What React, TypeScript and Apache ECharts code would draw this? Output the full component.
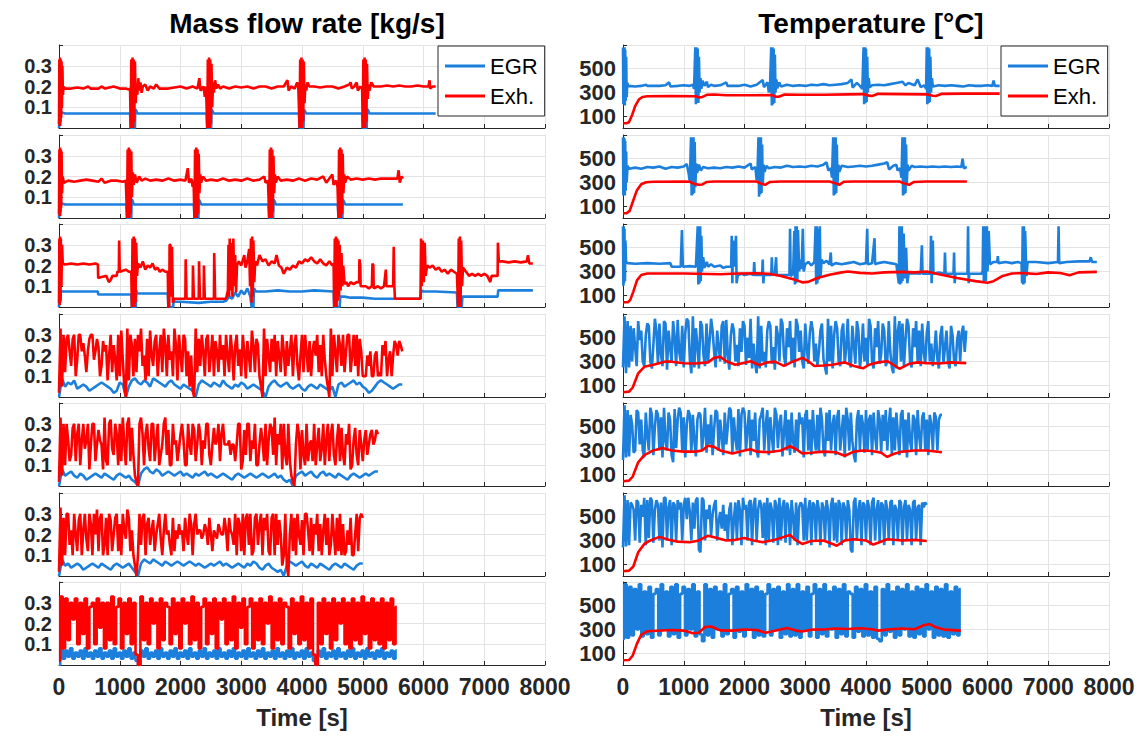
import React, { useEffect, useRef } from 'react';
import * as echarts from 'echarts';

const FONT = '"Liberation Sans", Arial, Helvetica, sans-serif';
const BLUE = '#1B7FDB';
const RED = '#FF0000';
const INK = '#262626';
const GRID = '#e3e3e3';

// ---------- tick labels / axis texts ----------
const massTicks = [0.1, 0.2, 0.3];
const tempTicks = [100, 300, 500];
const titles = ['Mass flow rate [kg/s]', 'Temperature [°C]'];
const xName = 'Time [s]';
const legendNames = ['EGR', 'Exh.'];

// ---------- Row 1 (time [s], value) ----------
const m1Exh = [[0,0.02],[6,0.33],[12,0.01],[18,0.34],[24,0.03],[30,0.33],[36,0.05],[42,0.32],[48,0.1],[56,0.3],[64,0.16],[75,0.2],[90,0.19],[200,0.19],[300,0.195],[400,0.19],[480,0.2],[520,0.19],[650,0.19],[700,0.2],[760,0.19],[900,0.2],[1000,0.19],[1100,0.19],[1150,0.185],[1170,0.19],[1180,0.0],[1190,0.33],[1200,0.02],[1210,0.34],[1220,0.0],[1230,0.33],[1240,0.03],[1250,0.32],[1262,0.12],[1275,0.2],[1290,0.16],[1305,0.24],[1320,0.18],[1340,0.22],[1360,0.17],[1380,0.2],[1420,0.21],[1460,0.18],[1500,0.2],[1560,0.19],[1600,0.21],[1650,0.19],[1800,0.19],[1900,0.195],[2000,0.2],[2100,0.19],[2200,0.2],[2280,0.19],[2310,0.24],[2330,0.18],[2380,0.2],[2400,0.15],[2420,0.2],[2440,0.0],[2450,0.33],[2460,0.02],[2470,0.34],[2480,0.0],[2490,0.33],[2500,0.02],[2510,0.31],[2522,0.1],[2535,0.22],[2550,0.17],[2570,0.23],[2590,0.19],[2620,0.21],[2650,0.19],[2700,0.2],[2800,0.19],[2900,0.2],[3000,0.195],[3100,0.2],[3200,0.19],[3300,0.2],[3400,0.2],[3500,0.19],[3600,0.2],[3700,0.2],[3760,0.23],[3780,0.18],[3820,0.2],[3880,0.19],[3920,0.22],[3940,0.19],[3960,0.0],[3970,0.33],[3980,0.02],[3990,0.34],[4000,0.0],[4010,0.33],[4020,0.03],[4030,0.32],[4042,0.12],[4055,0.21],[4070,0.18],[4090,0.22],[4120,0.2],[4200,0.2],[4300,0.195],[4400,0.2],[4500,0.2],[4600,0.19],[4700,0.2],[4780,0.21],[4800,0.22],[4820,0.19],[4860,0.2],[4900,0.22],[4920,0.18],[4960,0.2],[4990,0.19],[5000,0.0],[5010,0.33],[5020,0.02],[5030,0.34],[5040,0.0],[5050,0.33],[5060,0.03],[5070,0.31],[5082,0.14],[5095,0.21],[5110,0.18],[5140,0.22],[5180,0.2],[5300,0.2],[5400,0.205],[5500,0.2],[5600,0.205],[5700,0.2],[5800,0.2],[5900,0.205],[6000,0.2],[6080,0.2],[6100,0.23],[6110,0.19],[6150,0.2],[6200,0.2]];
const m1Egr = [[0,0],[10,0.09],[20,0.01],[30,0.08],[45,0.075],[100,0.07],[600,0.07],[1170,0.07],[1180,0.0],[1250,0.0],[1255,0.09],[1270,0.085],[1290,0.07],[2430,0.07],[2440,0.0],[2505,0.0],[2510,0.09],[2530,0.08],[2550,0.07],[3950,0.07],[3960,0.0],[4025,0.0],[4030,0.09],[4050,0.08],[4070,0.07],[4990,0.07],[5000,0.0],[5065,0.0],[5070,0.09],[5090,0.085],[5110,0.07],[6200,0.07]];
const t1Egr = [[0,680],[6,200],[12,670],[18,210],[24,680],[30,190],[36,660],[44,230],[52,600],[60,260],[70,380],[90,355],[200,350],[300,355],[380,365],[400,355],[600,355],[700,360],[760,385],[780,350],[900,355],[1000,360],[1100,355],[1150,365],[1170,330],[1190,680],[1200,200],[1210,680],[1220,220],[1230,670],[1240,210],[1250,600],[1260,300],[1275,420],[1290,330],[1310,400],[1340,355],[1380,390],[1400,345],[1450,365],[1500,355],[1600,360],[1700,385],[1720,355],[1900,355],[2000,365],[2100,350],[2200,365],[2300,405],[2320,345],[2380,385],[2400,300],[2420,355],[2440,680],[2450,190],[2460,680],[2470,200],[2480,670],[2490,210],[2500,620],[2510,300],[2525,410],[2540,335],[2570,385],[2600,350],[2700,365],[2800,355],[2900,360],[3000,355],[3100,365],[3200,360],[3300,370],[3400,360],[3500,365],[3600,370],[3700,380],[3760,410],[3780,340],[3850,380],[3900,355],[3940,330],[3960,680],[3970,200],[3980,680],[3990,210],[4000,670],[4010,220],[4020,600],[4030,300],[4045,420],[4060,345],[4100,360],[4200,365],[4300,360],[4400,370],[4500,380],[4600,390],[4650,360],[4700,380],[4800,360],[4850,410],[4900,345],[4960,360],[4990,330],[5000,680],[5010,200],[5020,680],[5030,210],[5040,670],[5050,220],[5060,600],[5070,300],[5085,420],[5100,350],[5200,360],[5300,355],[5400,360],[5500,355],[5600,350],[5700,360],[5800,355],[5900,355],[6000,360],[6080,355],[6100,400],[6120,355],[6200,355]];
const t1Exh = [[0,40],[60,40],[100,50],[150,110],[200,185],[260,240],[320,262],[400,268],[800,270],[1200,268],[1250,258],[1300,260],[1380,280],[1500,283],[1700,276],[2200,276],[2450,278],[2520,263],[2560,263],[2660,283],[2900,280],[3300,281],[3700,284],[3950,286],[4050,273],[4100,270],[4200,288],[4600,286],[5000,284],[5100,272],[5150,270],[5250,288],[5600,290],[6200,290]];

// ---------- Row 2 ----------
const m2Exh = [[0,0.02],[6,0.33],[12,0.01],[18,0.34],[24,0.03],[30,0.33],[36,0.05],[42,0.32],[50,0.12],[60,0.2],[80,0.17],[150,0.18],[250,0.175],[350,0.18],[450,0.185],[550,0.18],[650,0.175],[700,0.19],[750,0.17],[850,0.18],[950,0.18],[1050,0.175],[1100,0.18],[1120,0.0],[1130,0.33],[1140,0.01],[1150,0.34],[1160,0.0],[1170,0.33],[1180,0.02],[1190,0.32],[1200,0.1],[1215,0.22],[1230,0.16],[1250,0.21],[1280,0.17],[1320,0.2],[1360,0.18],[1420,0.19],[1500,0.18],[1600,0.185],[1700,0.18],[1800,0.19],[1900,0.18],[2000,0.185],[2080,0.18],[2120,0.24],[2140,0.17],[2180,0.19],[2200,0.15],[2215,0.18],[2230,0.0],[2240,0.33],[2250,0.01],[2260,0.34],[2270,0.0],[2280,0.33],[2290,0.02],[2300,0.31],[2312,0.12],[2325,0.21],[2340,0.17],[2370,0.2],[2420,0.18],[2500,0.185],[2600,0.18],[2700,0.19],[2800,0.18],[2900,0.185],[3000,0.18],[3100,0.19],[3200,0.18],[3300,0.185],[3380,0.2],[3400,0.17],[3440,0.18],[3460,0.0],[3470,0.33],[3480,0.01],[3490,0.34],[3500,0.0],[3510,0.33],[3520,0.03],[3530,0.3],[3542,0.12],[3555,0.21],[3570,0.17],[3600,0.2],[3650,0.18],[3750,0.185],[3850,0.18],[3950,0.19],[4050,0.18],[4150,0.19],[4250,0.185],[4350,0.2],[4400,0.17],[4450,0.19],[4500,0.21],[4520,0.16],[4560,0.18],[4585,0.15],[4600,0.0],[4610,0.33],[4620,0.01],[4630,0.34],[4640,0.0],[4650,0.33],[4660,0.02],[4670,0.31],[4682,0.12],[4695,0.21],[4710,0.17],[4740,0.2],[4800,0.185],[4900,0.19],[5000,0.185],[5100,0.19],[5200,0.185],[5300,0.19],[5400,0.19],[5500,0.19],[5570,0.19],[5590,0.23],[5610,0.17],[5640,0.2],[5660,0.19]];
const m2Egr = [[0,0],[10,0.09],[20,0.01],[30,0.08],[45,0.07],[100,0.065],[1110,0.065],[1120,0.0],[1190,0.0],[1195,0.09],[1210,0.085],[1230,0.065],[2220,0.065],[2230,0.0],[2295,0.0],[2300,0.09],[2320,0.08],[2340,0.065],[3450,0.065],[3460,0.0],[3525,0.0],[3530,0.09],[3550,0.08],[3570,0.065],[4590,0.065],[4600,0.0],[4665,0.0],[4670,0.09],[4690,0.08],[4710,0.065],[5660,0.065]];
const t2Egr = [[0,680],[6,190],[12,680],[18,200],[24,670],[30,190],[36,650],[44,230],[52,560],[60,300],[75,440],[100,415],[200,425],[300,415],[400,430],[500,425],[600,435],[700,415],[800,430],[900,425],[1000,435],[1050,455],[1080,380],[1100,300],[1120,680],[1130,190],[1140,680],[1150,200],[1160,680],[1170,210],[1180,640],[1190,260],[1205,460],[1220,380],[1250,450],[1280,400],[1320,430],[1400,420],[1500,425],[1600,420],[1700,430],[1800,425],[1900,435],[2000,425],[2100,460],[2120,410],[2180,430],[2200,320],[2215,400],[2230,680],[2240,180],[2250,680],[2260,200],[2270,680],[2280,210],[2290,620],[2300,280],[2315,450],[2330,390],[2360,440],[2400,420],[2500,430],[2600,425],[2700,440],[2800,430],[2900,435],[3000,430],[3100,440],[3200,435],[3300,450],[3350,470],[3380,400],[3420,420],[3440,340],[3460,680],[3470,190],[3480,680],[3490,200],[3500,680],[3510,210],[3520,620],[3530,280],[3545,450],[3560,390],[3600,440],[3700,430],[3800,435],[3900,440],[4000,435],[4100,440],[4200,450],[4300,460],[4350,470],[4380,410],[4450,440],[4500,450],[4520,400],[4560,420],[4585,340],[4600,680],[4610,190],[4620,680],[4630,200],[4640,680],[4650,210],[4660,620],[4670,280],[4685,450],[4700,400],[4750,440],[4800,430],[4900,435],[5000,430],[5100,435],[5200,430],[5300,435],[5400,430],[5500,435],[5570,430],[5590,500],[5610,420],[5660,430]];
const t2Exh = [[0,40],[60,40],[110,60],[170,150],[230,235],[300,285],[380,302],[500,306],[1000,308],[1100,306],[1170,288],[1250,280],[1300,282],[1380,304],[1500,308],[2200,308],[2280,288],[2340,280],[2420,304],[2600,308],[3400,308],[3500,292],[3560,280],[3640,306],[3800,308],[4550,308],[4650,288],[4710,280],[4790,304],[5000,308],[5660,308]];

// ---------- Row 3 ----------
const m3Exh = [[0,0.02],[6,0.33],[12,0.01],[18,0.34],[24,0.03],[30,0.33],[40,0.1],[50,0.3],[62,0.21],[100,0.205],[200,0.21],[300,0.205],[400,0.21],[500,0.205],[600,0.21],[640,0.205],[645,0.14],[700,0.145],[780,0.15],[820,0.12],[850,0.13],[880,0.15],[950,0.15],[960,0.17],[985,0.17],[990,0.32],[1000,0.17],[1050,0.175],[1100,0.18],[1150,0.17],[1190,0.17],[1200,0.0],[1210,0.33],[1220,0.01],[1230,0.34],[1240,0.0],[1250,0.33],[1260,0.02],[1270,0.31],[1285,0.15],[1300,0.21],[1340,0.19],[1380,0.22],[1420,0.18],[1460,0.2],[1500,0.19],[1540,0.21],[1580,0.18],[1620,0.19],[1660,0.17],[1700,0.18],[1750,0.17],[1790,0.17],[1800,0.0],[1815,0.0],[1820,0.3],[1835,0.3],[1840,0.05],[1860,0.29],[1875,0.02],[1900,0.04],[2000,0.04],[2080,0.04],[2085,0.23],[2095,0.23],[2100,0.04],[2150,0.04],[2200,0.04],[2205,0.2],[2215,0.2],[2220,0.04],[2300,0.04],[2305,0.22],[2315,0.22],[2320,0.04],[2380,0.04],[2385,0.2],[2395,0.2],[2400,0.04],[2500,0.04],[2550,0.04],[2555,0.26],[2565,0.26],[2570,0.04],[2680,0.04],[2750,0.04],[2780,0.08],[2790,0.3],[2800,0.05],[2810,0.33],[2820,0.08],[2840,0.31],[2855,0.05],[2870,0.33],[2885,0.1],[2900,0.25],[2915,0.07],[2930,0.2],[2960,0.22],[3000,0.2],[3050,0.25],[3070,0.19],[3100,0.22],[3130,0.28],[3145,0.1],[3160,0.33],[3170,0.02],[3180,0.34],[3190,0.05],[3200,0.32],[3215,0.12],[3230,0.22],[3260,0.2],[3300,0.25],[3350,0.22],[3400,0.23],[3450,0.2],[3500,0.22],[3550,0.21],[3580,0.25],[3620,0.2],[3660,0.19],[3700,0.16],[3750,0.19],[3800,0.18],[3850,0.2],[3900,0.19],[3950,0.22],[4000,0.21],[4050,0.23],[4100,0.22],[4150,0.24],[4200,0.22],[4250,0.21],[4300,0.23],[4350,0.21],[4400,0.2],[4450,0.22],[4500,0.2],[4520,0.21],[4530,0.0],[4540,0.33],[4550,0.02],[4560,0.34],[4570,0.0],[4580,0.33],[4590,0.03],[4600,0.32],[4610,0.05],[4620,0.3],[4635,0.08],[4650,0.26],[4665,0.1],[4680,0.2],[4700,0.11],[4730,0.12],[4760,0.1],[4800,0.12],[4850,0.11],[4900,0.12],[4940,0.12],[4945,0.23],[4960,0.2],[4965,0.1],[5000,0.1],[5050,0.1],[5100,0.09],[5150,0.1],[5160,0.21],[5175,0.2],[5180,0.09],[5250,0.1],[5300,0.09],[5350,0.1],[5380,0.18],[5390,0.1],[5450,0.1],[5500,0.1],[5510,0.29],[5520,0.1],[5530,0.04],[5600,0.04],[5700,0.04],[5800,0.04],[5900,0.04],[5950,0.04],[5960,0.33],[5970,0.1],[5990,0.32],[6005,0.12],[6020,0.31],[6035,0.15],[6060,0.2],[6100,0.19],[6150,0.2],[6200,0.18],[6250,0.19],[6300,0.17],[6350,0.18],[6400,0.16],[6450,0.18],[6500,0.17],[6550,0.16],[6570,0.0],[6580,0.33],[6590,0.01],[6600,0.34],[6610,0.0],[6620,0.32],[6635,0.1],[6650,0.19],[6700,0.17],[6750,0.15],[6800,0.16],[6850,0.15],[6900,0.16],[6950,0.15],[7000,0.16],[7050,0.15],[7100,0.12],[7120,0.15],[7200,0.15],[7220,0.15],[7225,0.31],[7240,0.22],[7300,0.22],[7400,0.215],[7500,0.22],[7600,0.215],[7700,0.22],[7720,0.25],[7740,0.21],[7800,0.21]];
const m3Egr = [[0,0],[10,0.09],[20,0.02],[30,0.08],[50,0.075],[100,0.075],[640,0.075],[645,0.06],[1190,0.06],[1200,0.0],[1265,0.0],[1270,0.08],[1290,0.065],[1400,0.065],[1790,0.065],[1800,0.0],[1880,0.0],[1885,0.025],[2000,0.025],[2300,0.02],[2500,0.025],[2700,0.025],[2750,0.03],[2800,0.05],[2850,0.04],[2900,0.07],[2950,0.05],[3000,0.08],[3050,0.06],[3100,0.09],[3150,0.05],[3170,0.0],[3200,0.0],[3210,0.09],[3240,0.075],[3400,0.075],[3600,0.08],[3800,0.075],[4000,0.075],[4200,0.08],[4520,0.075],[4530,0.0],[4620,0.0],[4630,0.05],[4700,0.05],[4800,0.045],[5000,0.045],[5200,0.04],[5500,0.04],[5950,0.04],[5960,0.08],[6000,0.075],[6200,0.075],[6550,0.07],[6560,0.0],[6630,0.0],[6640,0.05],[6800,0.05],[7000,0.05],[7220,0.05],[7230,0.08],[7400,0.08],[7800,0.08]];
const t3Egr = [[0,680],[6,180],[12,680],[18,200],[24,660],[32,220],[40,560],[50,380],[80,370],[200,365],[400,370],[600,365],[780,370],[800,340],[950,340],[970,650],[985,340],[1100,345],[1200,340],[1230,680],[1240,190],[1250,680],[1260,200],[1270,680],[1280,220],[1290,600],[1300,300],[1320,420],[1340,330],[1380,380],[1400,340],[1450,360],[1500,340],[1600,350],[1650,330],[1700,340],[1780,340],[1790,600],[1800,200],[1810,560],[1830,340],[1860,600],[1870,200],[1890,270],[1950,280],[2000,270],[2100,280],[2150,270],[2160,380],[2170,270],[2290,270],[2300,400],[2310,200],[2320,270],[2440,270],[2450,420],[2460,270],[2500,280],[2520,420],[2530,270],[2700,270],[2740,270],[2750,660],[2760,260],[2800,280],[2820,640],[2830,190],[2840,680],[2850,200],[2860,680],[2870,230],[2880,650],[2900,300],[2920,400],[2940,320],[2960,660],[2975,300],[3000,360],[3050,380],[3100,350],[3150,380],[3170,680],[3180,190],[3190,680],[3200,200],[3210,660],[3220,230],[3240,680],[3250,250],[3270,400],[3300,370],[3350,390],[3400,360],[3420,460],[3430,350],[3500,370],[3600,360],[3700,370],[3800,380],[3900,360],[4000,370],[4020,660],[4030,360],[4100,370],[4140,580],[4150,360],[4200,370],[4300,380],[4400,370],[4500,360],[4540,200],[4550,680],[4560,190],[4570,680],[4580,200],[4590,680],[4600,220],[4620,620],[4640,240],[4660,500],[4680,200],[4700,280],[4800,285],[4900,280],[4920,520],[4930,280],[5000,280],[5060,280],[5070,600],[5080,200],[5100,560],[5110,280],[5200,290],[5290,280],[5300,460],[5310,280],[5440,280],[5450,460],[5460,200],[5470,280],[5600,280],[5670,280],[5680,680],[5690,200],[5700,280],[5900,280],[5920,300],[5930,680],[5940,210],[5960,680],[5970,220],[5990,680],[6000,300],[6020,640],[6040,360],[6100,380],[6160,380],[6170,430],[6180,370],[6300,380],[6400,370],[6500,380],[6560,370],[6570,200],[6580,680],[6590,190],[6600,680],[6610,200],[6620,640],[6640,260],[6660,380],[6800,380],[7000,370],[7160,380],[7170,680],[7180,370],[7300,380],[7500,385],[7680,385],[7700,420],[7720,380],[7800,380]];
const t3Exh = [[0,40],[80,40],[120,60],[170,130],[230,225],[300,270],[400,282],[1000,282],[1400,278],[1600,276],[1900,282],[2200,285],[2400,280],[2600,262],[2800,235],[2950,208],[3050,212],[3200,245],[3400,272],[3600,292],[3700,300],[3900,288],[4100,283],[4300,292],[4600,296],[4800,292],[5000,300],[5200,276],[5500,244],[5800,218],[6000,204],[6100,218],[6250,262],[6400,283],[6600,286],[6800,278],[7000,292],[7200,287],[7350,268],[7500,292],[7800,296]];

// ---------- Rows 4-6: fine samples every 25 s, EGR flow every 50 s ----------
const fine = 25;
const coarse = 50;
const m4Exh = [
  0.02, 0.33, 0.05, 0.30, 0.12, 0.28, 0.30, 0.22, 0.15, 0.28,
  0.30, 0.10, 0.18, 0.30, 0.30, 0.22, 0.26, 0.20, 0.12, 0.22,
  0.28, 0.30, 0.30, 0.18, 0.22, 0.28, 0.24, 0.10, 0.15, 0.27,
  0.22, 0.25, 0.08, 0.20, 0.30, 0.12, 0.25, 0.18, 0.08, 0.30,
  0.10, 0.32, 0.18, 0.05, 0.00, 0.33, 0.08, 0.30, 0.25, 0.10,
  0.28, 0.12, 0.30, 0.22, 0.33, 0.15, 0.20, 0.08, 0.28, 0.10,
  0.32, 0.20, 0.15, 0.27, 0.30, 0.10, 0.22, 0.30, 0.12, 0.33,
  0.25, 0.10, 0.30, 0.18, 0.22, 0.10, 0.33, 0.25, 0.08, 0.30,
  0.20, 0.12, 0.30, 0.28, 0.10, 0.22, 0.05, 0.20, 0.03, 0.00,
  0.33, 0.12, 0.28, 0.15, 0.30, 0.22, 0.10, 0.28, 0.30, 0.12,
  0.20, 0.30, 0.10, 0.27, 0.22, 0.12, 0.30, 0.18, 0.25, 0.10,
  0.30, 0.20, 0.12, 0.30, 0.22, 0.08, 0.25, 0.30, 0.15, 0.23,
  0.10, 0.30, 0.22, 0.09, 0.27, 0.20, 0.12, 0.32, 0.25, 0.12,
  0.28, 0.25, 0.10, 0.05, 0.00, 0.33, 0.10, 0.28, 0.20, 0.12,
  0.28, 0.17, 0.30, 0.10, 0.27, 0.20, 0.12, 0.30, 0.22, 0.10,
  0.27, 0.15, 0.22, 0.30, 0.10, 0.25, 0.30, 0.15, 0.08, 0.20,
  0.30, 0.12, 0.30, 0.22, 0.12, 0.27, 0.10, 0.22, 0.27, 0.20,
  0.30, 0.12, 0.25, 0.10, 0.30, 0.18, 0.10, 0.05, 0.00, 0.33,
  0.10, 0.30, 0.22, 0.12, 0.30, 0.25, 0.15, 0.30, 0.12, 0.22,
  0.30, 0.30, 0.12, 0.20, 0.30, 0.15, 0.30, 0.10, 0.28, 0.22,
  0.10, 0.10, 0.10, 0.20, 0.15, 0.22, 0.10, 0.10, 0.20, 0.22,
  0.10, 0.12, 0.10, 0.25, 0.20, 0.27, 0.10, 0.18, 0.22, 0.10,
  0.20, 0.27, 0.25, 0.20, 0.27, 0.25, 0.22];
const m4Egr = [
  0.00, 0.09, 0.05, 0.07, 0.06, 0.08, 0.04, 0.05, 0.06, 0.05,
  0.03, 0.04, 0.05, 0.06, 0.07, 0.06, 0.05, 0.04, 0.02, 0.03,
  0.07, 0.06, 0.00, 0.05, 0.08, 0.09, 0.07, 0.06, 0.08, 0.07,
  0.05, 0.09, 0.08, 0.07, 0.06, 0.05, 0.07, 0.08, 0.06, 0.05,
  0.04, 0.06, 0.05, 0.04, 0.03, 0.00, 0.06, 0.08, 0.07, 0.06,
  0.05, 0.07, 0.06, 0.05, 0.08, 0.06, 0.05, 0.04, 0.06, 0.05,
  0.07, 0.06, 0.04, 0.05, 0.06, 0.05, 0.04, 0.03, 0.00, 0.05,
  0.07, 0.08, 0.06, 0.05, 0.06, 0.07, 0.05, 0.04, 0.05, 0.06,
  0.04, 0.03, 0.05, 0.06, 0.05, 0.04, 0.06, 0.05, 0.04, 0.03,
  0.05, 0.00, 0.06, 0.07, 0.05, 0.06, 0.07, 0.08, 0.06, 0.07,
  0.05, 0.04, 0.02, 0.03, 0.05, 0.07, 0.08, 0.07, 0.06, 0.05,
  0.04, 0.05, 0.06, 0.06];
const t4Egr = [
  250, 680, 200, 640, 250, 600, 300, 580, 420, 260,
  640, 480, 560, 300, 260, 520, 620, 600, 300, 240,
  440, 660, 560, 280, 620, 360, 260, 640, 620, 230,
  560, 420, 300, 640, 500, 260, 650, 380, 300, 600,
  250, 540, 660, 640, 320, 200, 680, 250, 580, 430,
  240, 640, 600, 350, 260, 620, 300, 470, 660, 560,
  380, 250, 560, 420, 300, 600, 640, 280, 650, 350,
  230, 520, 620, 560, 300, 440, 260, 580, 380, 640,
  600, 270, 500, 330, 660, 240, 450, 280, 200, 680,
  240, 600, 300, 380, 250, 560, 640, 600, 280, 420,
  230, 600, 520, 300, 660, 620, 350, 260, 580, 420,
  640, 290, 500, 250, 660, 600, 380, 560, 300, 240,
  620, 420, 280, 540, 640, 560, 300, 450, 260, 380,
  560, 620, 320, 250, 190, 660, 300, 600, 240, 520,
  640, 580, 300, 260, 560, 620, 280, 420, 660, 300,
  250, 600, 440, 280, 640, 560, 240, 380, 620, 300,
  500, 260, 660, 600, 300, 240, 580, 420, 640, 280,
  360, 620, 560, 260, 300, 640, 380, 250, 200, 680,
  240, 560, 640, 300, 620, 260, 480, 660, 600, 300,
  250, 580, 420, 640, 300, 560, 260, 620, 380, 280,
  540, 640, 300, 450, 260, 380, 560, 320, 240, 520,
  600, 280, 420, 560, 300, 240, 600, 520, 300, 260,
  480, 560, 300, 540, 600, 380, 560];
const t4Exh = [[0,40],[100,45],[160,80],[250,200],[350,255],[500,272],[700,300],[800,298],[1000,285],[1200,283],[1400,292],[1500,330],[1600,340],[1700,302],[1850,272],[2000,288],[2100,302],[2250,268],[2350,290],[2500,298],[2650,262],[2800,300],[2950,330],[3050,302],[3150,262],[3300,266],[3450,272],[3550,282],[3650,292],[3800,262],[3950,242],[4050,272],[4200,292],[4350,302],[4450,272],[4550,238],[4700,278],[4850,292],[5000,286],[5200,282],[5400,292],[5650,286]];

const m5Exh = [
  0.02, 0.33, 0.05, 0.30, 0.10, 0.30, 0.22, 0.12, 0.15, 0.28,
  0.30, 0.12, 0.25, 0.30, 0.10, 0.22, 0.30, 0.18, 0.22, 0.30,
  0.08, 0.20, 0.30, 0.30, 0.12, 0.20, 0.27, 0.22, 0.20, 0.08,
  0.33, 0.12, 0.10, 0.30, 0.32, 0.18, 0.15, 0.30, 0.25, 0.10,
  0.30, 0.12, 0.33, 0.20, 0.10, 0.30, 0.33, 0.12, 0.28, 0.15,
  0.05, 0.02, 0.00, 0.30, 0.33, 0.25, 0.10, 0.25, 0.30, 0.18,
  0.12, 0.30, 0.30, 0.12, 0.22, 0.30, 0.10, 0.15, 0.20, 0.30,
  0.33, 0.15, 0.27, 0.10, 0.10, 0.30, 0.20, 0.22, 0.12, 0.18,
  0.25, 0.30, 0.22, 0.10, 0.10, 0.30, 0.20, 0.15, 0.30, 0.27,
  0.12, 0.20, 0.30, 0.25, 0.10, 0.22, 0.18, 0.30, 0.30, 0.15,
  0.10, 0.20, 0.28, 0.20, 0.22, 0.30, 0.12, 0.25, 0.30, 0.20,
  0.20, 0.20, 0.22, 0.15, 0.20, 0.20, 0.12, 0.20, 0.30, 0.30,
  0.08, 0.12, 0.27, 0.15, 0.30, 0.30, 0.12, 0.22, 0.18, 0.30,
  0.10, 0.10, 0.20, 0.28, 0.22, 0.12, 0.30, 0.10, 0.22, 0.30,
  0.28, 0.15, 0.33, 0.10, 0.25, 0.20, 0.30, 0.08, 0.30, 0.15,
  0.10, 0.30, 0.12, 0.05, 0.02, 0.00, 0.20, 0.30, 0.25, 0.08,
  0.27, 0.15, 0.10, 0.30, 0.12, 0.20, 0.22, 0.12, 0.30, 0.10,
  0.20, 0.28, 0.12, 0.18, 0.30, 0.10, 0.22, 0.30, 0.12, 0.25,
  0.30, 0.15, 0.10, 0.22, 0.30, 0.12, 0.28, 0.15, 0.10, 0.25,
  0.20, 0.30, 0.08, 0.10, 0.22, 0.28, 0.15, 0.10, 0.27, 0.20,
  0.12, 0.22, 0.27, 0.15, 0.20, 0.25, 0.27, 0.20, 0.22, 0.27,
  0.25];
const m5Egr = [
  0.00, 0.08, 0.05, 0.06, 0.07, 0.05, 0.04, 0.06, 0.05, 0.03,
  0.04, 0.05, 0.06, 0.05, 0.04, 0.06, 0.05, 0.04, 0.03, 0.05,
  0.06, 0.05, 0.04, 0.05, 0.03, 0.02, 0.00, 0.06, 0.08, 0.09,
  0.07, 0.06, 0.08, 0.07, 0.05, 0.06, 0.07, 0.06, 0.05, 0.06,
  0.07, 0.05, 0.06, 0.05, 0.04, 0.06, 0.05, 0.06, 0.07, 0.05,
  0.06, 0.05, 0.04, 0.05, 0.06, 0.05, 0.04, 0.03, 0.05, 0.06,
  0.05, 0.04, 0.05, 0.06, 0.05, 0.04, 0.05, 0.06, 0.05, 0.04,
  0.05, 0.06, 0.04, 0.05, 0.03, 0.02, 0.03, 0.00, 0.05, 0.06,
  0.07, 0.05, 0.06, 0.07, 0.05, 0.04, 0.06, 0.07, 0.05, 0.06,
  0.05, 0.04, 0.06, 0.05, 0.04, 0.03, 0.05, 0.06, 0.05, 0.04,
  0.05, 0.06, 0.05, 0.06, 0.07, 0.07];
const t5Egr = [
  220, 680, 240, 640, 250, 600, 520, 280, 300, 640,
  620, 350, 560, 300, 240, 620, 420, 300, 660, 600,
  260, 500, 640, 600, 300, 580, 240, 660, 380, 300,
  620, 560, 260, 200, 650, 320, 560, 660, 620, 300,
  580, 240, 520, 640, 600, 280, 600, 380, 250, 560,
  620, 600, 300, 440, 660, 280, 520, 350, 600, 260,
  480, 640, 620, 300, 560, 420, 260, 620, 350, 500,
  660, 640, 280, 580, 400, 300, 650, 250, 600, 660,
  620, 300, 480, 640, 260, 560, 380, 620, 300, 240,
  560, 600, 660, 300, 520, 640, 260, 580, 420, 280,
  660, 600, 320, 540, 600, 250, 460, 640, 300, 560,
  260, 620, 380, 280, 560, 300, 620, 520, 580, 240,
  600, 640, 300, 560, 260, 640, 420, 300, 600, 280,
  660, 560, 300, 250, 620, 380, 640, 300, 520, 600,
  260, 580, 640, 300, 460, 600, 240, 660, 560, 300,
  620, 380, 260, 200, 560, 640, 300, 600, 520, 280,
  640, 300, 560, 600, 260, 620, 420, 300, 640, 560,
  280, 600, 380, 640, 300, 520, 660, 260, 580, 300,
  620, 440, 260, 600, 640, 300, 560, 240, 620, 380,
  300, 600, 560, 260, 640, 420, 300, 580, 620, 300,
  560, 260, 600, 520, 300, 620, 580, 300, 560, 600,
  600];
const t5Exh = [[0,40],[100,45],[160,80],[250,200],[350,260],[500,300],[650,320],[800,300],[1000,290],[1200,290],[1300,300],[1400,340],[1500,330],[1600,300],[1800,275],[2000,300],[2100,310],[2200,290],[2400,285],[2600,300],[2750,335],[2850,310],[2950,275],[3100,280],[3300,290],[3500,285],[3650,255],[3800,290],[3950,300],[4100,295],[4250,280],[4350,245],[4450,270],[4600,290],[4800,300],[5000,300],[5250,285]];

const m6Exh = [
  0.02, 0.33, 0.05, 0.28, 0.10, 0.30, 0.30, 0.15, 0.22, 0.10,
  0.30, 0.20, 0.12, 0.27, 0.30, 0.10, 0.22, 0.30, 0.18, 0.12,
  0.30, 0.25, 0.10, 0.30, 0.20, 0.32, 0.12, 0.28, 0.30, 0.10,
  0.15, 0.28, 0.10, 0.30, 0.27, 0.12, 0.20, 0.28, 0.30, 0.12,
  0.25, 0.10, 0.30, 0.22, 0.18, 0.32, 0.28, 0.12, 0.22, 0.10,
  0.05, 0.00, 0.10, 0.30, 0.15, 0.28, 0.30, 0.10, 0.25, 0.28,
  0.15, 0.22, 0.27, 0.12, 0.20, 0.25, 0.30, 0.18, 0.10, 0.22,
  0.30, 0.20, 0.22, 0.15, 0.10, 0.28, 0.12, 0.22, 0.18, 0.25,
  0.20, 0.22, 0.12, 0.28, 0.20, 0.15, 0.30, 0.25, 0.10, 0.25,
  0.30, 0.20, 0.22, 0.22, 0.18, 0.20, 0.25, 0.22, 0.15, 0.28,
  0.20, 0.12, 0.22, 0.20, 0.18, 0.25, 0.22, 0.20, 0.20, 0.28,
  0.22, 0.12, 0.28, 0.22, 0.20, 0.15, 0.30, 0.10, 0.28, 0.25,
  0.12, 0.30, 0.10, 0.28, 0.30, 0.15, 0.30, 0.10, 0.12, 0.28,
  0.30, 0.15, 0.25, 0.30, 0.10, 0.28, 0.22, 0.30, 0.12, 0.10,
  0.28, 0.30, 0.10, 0.30, 0.15, 0.27, 0.20, 0.05, 0.10, 0.30,
  0.05, 0.00, 0.20, 0.30, 0.12, 0.28, 0.10, 0.30, 0.20, 0.15,
  0.27, 0.10, 0.30, 0.30, 0.22, 0.12, 0.28, 0.10, 0.25, 0.20,
  0.30, 0.12, 0.25, 0.10, 0.22, 0.30, 0.15, 0.28, 0.10, 0.15,
  0.30, 0.20, 0.10, 0.28, 0.12, 0.30, 0.10, 0.25, 0.10, 0.12,
  0.22, 0.15, 0.28, 0.10, 0.10, 0.20, 0.30, 0.12, 0.28, 0.30,
  0.28];
const m6Egr = [
  0.00, 0.08, 0.05, 0.06, 0.04, 0.05, 0.06, 0.05, 0.03, 0.04,
  0.05, 0.06, 0.05, 0.04, 0.06, 0.05, 0.04, 0.03, 0.05, 0.06,
  0.05, 0.04, 0.05, 0.06, 0.04, 0.02, 0.00, 0.06, 0.08, 0.07,
  0.06, 0.08, 0.07, 0.06, 0.05, 0.07, 0.06, 0.05, 0.06, 0.07,
  0.06, 0.05, 0.06, 0.07, 0.06, 0.05, 0.06, 0.05, 0.04, 0.05,
  0.06, 0.05, 0.06, 0.07, 0.05, 0.06, 0.05, 0.04, 0.05, 0.06,
  0.05, 0.04, 0.06, 0.05, 0.07, 0.06, 0.04, 0.03, 0.05, 0.06,
  0.04, 0.03, 0.02, 0.03, 0.00, 0.05, 0.07, 0.06, 0.05, 0.06,
  0.07, 0.05, 0.04, 0.06, 0.05, 0.04, 0.06, 0.05, 0.04, 0.03,
  0.05, 0.06, 0.05, 0.04, 0.06, 0.05, 0.04, 0.03, 0.05, 0.06,
  0.06];
const t6Egr = [
  240, 680, 250, 640, 260, 620, 600, 560, 300, 640,
  620, 280, 600, 500, 660, 260, 640, 320, 660, 640,
  280, 560, 640, 600, 300, 620, 240, 660, 660, 300,
  580, 640, 260, 620, 600, 300, 640, 560, 620, 300,
  600, 660, 480, 660, 540, 300, 620, 400, 640, 660,
  220, 200, 660, 640, 300, 560, 480, 600, 340, 520,
  600, 640, 300, 460, 540, 400, 600, 380, 520, 300,
  560, 620, 260, 480, 620, 300, 640, 560, 260, 660,
  560, 600, 300, 620, 640, 260, 600, 660, 300, 560,
  640, 600, 320, 620, 260, 660, 300, 620, 560, 280,
  640, 600, 260, 660, 300, 580, 640, 280, 620, 560,
  260, 640, 500, 300, 620, 260, 580, 620, 600, 300,
  660, 300, 560, 640, 260, 620, 600, 300, 640, 560,
  260, 620, 580, 300, 640, 560, 240, 600, 660, 300,
  620, 280, 640, 600, 260, 620, 580, 300, 640, 560,
  220, 200, 620, 660, 300, 560, 640, 260, 620, 600,
  300, 640, 580, 260, 620, 660, 300, 560, 640, 280,
  620, 600, 260, 640, 560, 300, 620, 640, 260, 600,
  560, 300, 640, 620, 260, 580, 640, 300, 600, 560,
  260, 620, 640, 300, 580, 600, 260, 620, 580, 620,
  600];
const t6Exh = [[0,40],[100,45],[170,80],[250,200],[350,270],[450,300],[600,330],[750,305],[900,290],[1100,285],[1250,300],[1400,340],[1550,320],[1700,300],[1850,305],[2000,320],[2150,300],[2300,285],[2500,305],[2650,330],[2750,345],[2850,300],[2950,270],[3100,295],[3300,300],[3450,270],[3520,255],[3650,300],[3800,310],[4000,300],[4120,265],[4200,280],[4350,310],[4600,300],[4800,305],[5000,295]];

// ---------- Row 7 (every 40 s) ----------
const step7 = 40;
const m7Exh = [
  0.02, 0.33, 0.08, 0.32, 0.12, 0.30, 0.22, 0.32, 0.10, 0.30,
  0.15, 0.32, 0.08, 0.28, 0.30, 0.10, 0.32, 0.18, 0.30, 0.08,
  0.30, 0.12, 0.33, 0.10, 0.28, 0.32, 0.08, 0.30, 0.15, 0.32,
  0.10, 0.30, 0.05, 0.00, 0.33, 0.12, 0.30, 0.10, 0.32, 0.20,
  0.30, 0.08, 0.32, 0.12, 0.30, 0.28, 0.10, 0.32, 0.15, 0.30,
  0.08, 0.32, 0.20, 0.30, 0.10, 0.33, 0.12, 0.30, 0.08, 0.28,
  0.32, 0.10, 0.30, 0.15, 0.32, 0.08, 0.30, 0.22, 0.32, 0.10,
  0.30, 0.12, 0.33, 0.08, 0.30, 0.18, 0.32, 0.10, 0.28, 0.32,
  0.08, 0.30, 0.12, 0.32, 0.10, 0.30, 0.20, 0.33, 0.08, 0.30,
  0.12, 0.32, 0.10, 0.30, 0.28, 0.08, 0.32, 0.15, 0.30, 0.10,
  0.33, 0.12, 0.30, 0.08, 0.32, 0.05, 0.00, 0.30, 0.10, 0.32,
  0.15, 0.30, 0.08, 0.32, 0.12, 0.30, 0.20, 0.32, 0.10, 0.30,
  0.08, 0.32, 0.12, 0.30, 0.10, 0.33, 0.15, 0.30, 0.08, 0.32,
  0.12, 0.30, 0.10, 0.32, 0.08, 0.30, 0.12, 0.32, 0.10, 0.28];
const m7Egr = [
  0.00, 0.08, 0.03, 0.07, 0.04, 0.08, 0.03, 0.06, 0.04, 0.07,
  0.03, 0.08, 0.04, 0.06, 0.03, 0.07, 0.04, 0.08, 0.03, 0.06,
  0.04, 0.07, 0.03, 0.08, 0.04, 0.06, 0.03, 0.07, 0.04, 0.08,
  0.03, 0.06, 0.02, 0.00, 0.07, 0.04, 0.08, 0.03, 0.06, 0.04,
  0.07, 0.03, 0.08, 0.04, 0.06, 0.03, 0.07, 0.04, 0.08, 0.03,
  0.06, 0.04, 0.07, 0.03, 0.08, 0.04, 0.06, 0.03, 0.07, 0.04,
  0.08, 0.03, 0.06, 0.04, 0.07, 0.03, 0.08, 0.04, 0.06, 0.03,
  0.07, 0.04, 0.08, 0.03, 0.06, 0.04, 0.07, 0.03, 0.08, 0.04,
  0.06, 0.03, 0.07, 0.04, 0.08, 0.03, 0.06, 0.04, 0.07, 0.03,
  0.08, 0.04, 0.06, 0.03, 0.07, 0.04, 0.08, 0.03, 0.06, 0.04,
  0.07, 0.03, 0.08, 0.04, 0.06, 0.02, 0.00, 0.07, 0.04, 0.08,
  0.03, 0.06, 0.04, 0.07, 0.03, 0.08, 0.04, 0.06, 0.03, 0.07,
  0.04, 0.08, 0.03, 0.06, 0.04, 0.07, 0.03, 0.08, 0.04, 0.06,
  0.03, 0.07, 0.04, 0.08, 0.03, 0.06, 0.04, 0.07, 0.03, 0.07];
const t7Egr = [
  220, 680, 230, 660, 250, 640, 300, 680, 240, 620,
  260, 660, 230, 600, 640, 250, 680, 300, 620, 240,
  660, 260, 680, 230, 600, 660, 250, 640, 300, 680,
  240, 620, 260, 200, 680, 250, 640, 230, 660, 300,
  620, 240, 680, 260, 600, 640, 230, 660, 280, 620,
  240, 680, 300, 640, 230, 660, 250, 620, 240, 600,
  680, 250, 640, 300, 660, 230, 620, 260, 680, 240,
  640, 250, 680, 230, 620, 300, 660, 240, 600, 680,
  230, 640, 260, 680, 240, 620, 300, 660, 230, 640,
  260, 680, 240, 620, 600, 230, 660, 280, 640, 240,
  680, 250, 620, 230, 660, 220, 200, 640, 250, 680,
  280, 620, 230, 660, 250, 640, 300, 680, 240, 620,
  230, 660, 260, 640, 240, 680, 300, 620, 230, 660,
  250, 640, 240, 680, 230, 620, 260, 660, 250, 640];
const t7Exh = [[0,40],[100,42],[160,80],[230,180],[300,255],[400,285],[800,295],[1000,290],[1150,268],[1250,272],[1350,320],[1450,325],[1600,292],[1800,290],[2000,300],[2200,295],[2350,272],[2500,288],[2700,312],[2850,290],[2950,282],[3100,298],[3300,300],[3500,308],[3700,304],[3900,310],[4100,302],[4200,290],[4400,302],[4600,308],[4800,302],[4950,335],[5050,345],[5150,318],[5300,298],[5560,290]];

// ---------- layout ----------
const PLOT_LEFT = [59, 623];
const PLOT_W = 486;
const ROW_TOP = [45, 135, 224, 314, 403, 493, 582];
const ROW_H = 83;

const toPairs = (vals: number[], step: number) => vals.map((v, i) => [i * step, v]);

const massRows = [
  { egr: m1Egr, exh: m1Exh, stepped: false },
  { egr: m2Egr, exh: m2Exh, stepped: false },
  { egr: m3Egr, exh: m3Exh, stepped: false },
  { egr: toPairs(m4Egr, coarse), exh: toPairs(m4Exh, fine), stepped: false },
  { egr: toPairs(m5Egr, coarse), exh: toPairs(m5Exh, fine), stepped: false },
  { egr: toPairs(m6Egr, coarse), exh: toPairs(m6Exh, fine), stepped: false },
  { egr: toPairs(m7Egr, step7), exh: toPairs(m7Exh, step7), stepped: true },
];
const tempRows = [
  { egr: t1Egr, exh: t1Exh, stepped: false },
  { egr: t2Egr, exh: t2Exh, stepped: false },
  { egr: t3Egr, exh: t3Exh, stepped: false },
  { egr: toPairs(t4Egr, fine), exh: t4Exh, stepped: false },
  { egr: toPairs(t5Egr, fine), exh: t5Exh, stepped: false },
  { egr: toPairs(t6Egr, fine), exh: t6Exh, stepped: false },
  { egr: toPairs(t7Egr, step7), exh: t7Exh, stepped: true },
];

function buildOption() {
  const grid: any[] = [];
  const xAxis: any[] = [];
  const yAxis: any[] = [];
  const series: any[] = [];
  const tickFont = { color: INK, fontSize: 23, fontWeight: 'bold', fontFamily: FONT };
  const yFont = { color: INK, fontSize: 20, fontWeight: 'bold', fontFamily: FONT, lineHeight: 18 };
  const yFontR = { color: INK, fontSize: 22, fontWeight: 'bold', fontFamily: FONT, lineHeight: 20 };

  for (let r = 0; r < 7; r++) {
    for (let c = 0; c < 2; c++) {
      const idx = grid.length;
      const last = r === 6;
      grid.push({ left: PLOT_LEFT[c], top: ROW_TOP[r], width: PLOT_W, height: ROW_H });
      xAxis.push({
        gridIndex: idx, type: 'value', min: 0, max: 8000, interval: 1000,
        axisLine: { show: true, onZero: false, lineStyle: { color: INK, width: 1 } },
        axisTick: { show: true, inside: true, length: 4, lineStyle: { color: INK } },
        axisLabel: {
          show: last, showMinLabel: true, showMaxLabel: true, hideOverlap: false, margin: 10, ...tickFont,
          formatter: (v: number) => String(Math.round(v)),
        },
        splitLine: { show: true, lineStyle: { color: GRID, width: 1 } },
        name: last ? xName : '', nameLocation: 'middle', nameGap: 40,
        nameTextStyle: { color: INK, fontSize: 24, fontWeight: 'bold', fontFamily: FONT },
      });
      if (c === 0) {
        yAxis.push({
          gridIndex: idx, type: 'value', min: 0, max: 0.4, interval: 0.1,
          axisLine: { show: true, onZero: false, lineStyle: { color: INK, width: 1 } },
          axisTick: { show: true, inside: true, length: 4, lineStyle: { color: INK } },
          axisLabel: {
            margin: 7, ...yFont, interval: 0, hideOverlap: false, showMinLabel: true, showMaxLabel: true,
            formatter: (v: number) => (massTicks.some((t) => Math.abs(t - v) < 1e-6) ? v.toFixed(1) : ''),
          },
          splitLine: { show: true, lineStyle: { color: GRID, width: 1 } },
        });
      } else {
        yAxis.push({
          gridIndex: idx, type: 'value', min: 0, max: 700,
          axisLine: { show: true, onZero: false, lineStyle: { color: INK, width: 1 } },
          axisTick: { show: true, inside: true, length: 4, lineStyle: { color: INK }, customValues: [...tempTicks, 700] },
          axisLabel: { margin: 7, ...yFontR, hideOverlap: false, customValues: tempTicks },
          splitLine: { show: true, lineStyle: { color: GRID, width: 1 } },
        });
      }
      const rowData = c === 0 ? massRows[r] : tempRows[r];
      const common = {
        type: 'line', xAxisIndex: idx, yAxisIndex: idx, showSymbol: false, symbol: 'none',
        silent: true, animation: false,
      };
      series.push({
        ...common, name: legendNames[0], data: rowData.egr, step: rowData.stepped ? 'middle' : false,
        color: BLUE, lineStyle: { color: BLUE, width: 2.6 }, z: 2,
      });
      series.push({
        ...common, name: legendNames[1], data: rowData.exh, step: rowData.stepped && c === 0 ? 'middle' : false,
        color: RED, lineStyle: { color: RED, width: 2.6 }, z: 3,
      });
    }
  }

  const legendBase = {
    data: legendNames, orient: 'vertical', top: 46, icon: 'rect', itemWidth: 40, itemHeight: 3,
    itemGap: 8, padding: [9, 7, 9, 7], backgroundColor: '#ffffff', borderColor: INK, borderWidth: 1,
    selectedMode: false, z: 10,
    textStyle: { color: '#000', fontSize: 22, fontFamily: FONT },
  };

  return {
    animation: false,
    backgroundColor: '#ffffff',
    title: [
      { text: titles[0], left: PLOT_LEFT[0] + PLOT_W / 2, top: 4, textAlign: 'center', textStyle: { color: '#000', fontSize: 28, fontWeight: 'bold', fontFamily: FONT } },
      { text: titles[1], left: PLOT_LEFT[1] + PLOT_W / 2, top: 4, textAlign: 'center', textStyle: { color: '#000', fontSize: 28, fontWeight: 'bold', fontFamily: FONT } },
    ],
    legend: [
      { ...legendBase, left: 438 },
      { ...legendBase, left: 1001 },
    ],
    grid, xAxis, yAxis, series,
  };
}

export default function App() {
  const ref = useRef<HTMLDivElement>(null);
  useEffect(() => {
    if (!ref.current) return;
    const chart = echarts.init(ref.current, null, { renderer: 'svg' });
    chart.setOption(buildOption() as any);
    return () => chart.dispose();
  }, []);
  return (
    <div
      ref={ref}
      style={{ position: 'fixed', left: 0, top: 0, width: 1141, height: 738, background: '#ffffff' }}
    />
  );
}
